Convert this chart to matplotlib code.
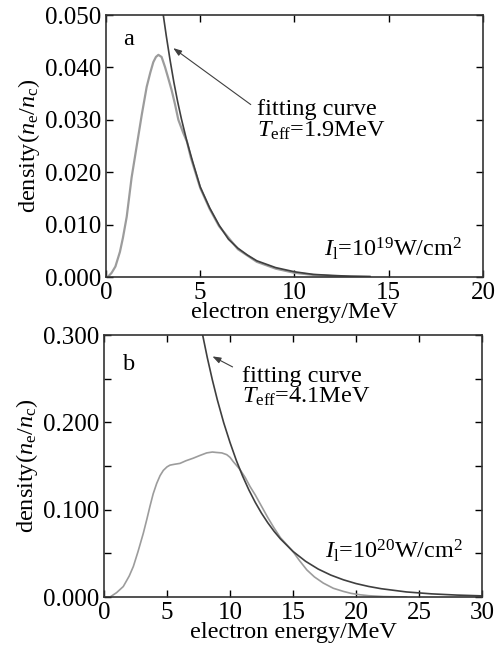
import matplotlib
matplotlib.use("Agg")
import matplotlib.pyplot as plt
from matplotlib.ticker import MultipleLocator

plt.rcParams['font.family'] = 'serif'
plt.rcParams['font.serif'] = ['Liberation Serif', 'DejaVu Serif']
plt.rcParams['mathtext.fontset'] = 'custom'
plt.rcParams['mathtext.rm'] = 'Liberation Serif'
plt.rcParams['mathtext.it'] = 'Liberation Serif:italic'

# --- panel a: I = 1e19 W/cm^2 ---
energy_a = [0, 0.12, 0.3, 0.5, 0.74, 0.9, 1.1, 1.36, 1.63, 1.9, 2.16, 2.35,
            2.51, 2.65, 2.78, 2.95, 3.13, 3.3, 3.48, 3.66, 3.84, 4.1, 4.3,
            4.5, 5, 5.5, 6, 7, 8, 9, 10, 11, 12, 13, 14]
density_a = [0, 0.0001, 0.0008, 0.002, 0.0048, 0.0075, 0.0115, 0.019, 0.025,
             0.031, 0.0363, 0.039, 0.041, 0.042, 0.0424, 0.042, 0.0401, 0.038,
             0.0357, 0.033, 0.030, 0.0275, 0.0258, 0.0228, 0.017, 0.013,
             0.0097, 0.0053, 0.0029, 0.0016, 0.0008, 0.0004, 0.0002, 0.0001, 0.0]

fit_energy_a = [3.04, 3.2, 3.4, 3.6, 3.8, 4.0, 4.3, 4.6, 5.0, 5.5, 6.0, 6.5,
                7.0, 7.5, 8.0, 9.0, 10, 11, 12, 13, 14]
fit_density_a = [0.050, 0.046, 0.0414, 0.0372, 0.0335, 0.0302, 0.0258, 0.022,
                 0.0172, 0.0132, 0.0099, 0.0072, 0.0055, 0.0042, 0.0031,
                 0.0018, 0.001, 0.0005, 0.0003, 0.00015, 0.0001]

# --- panel b: I = 1e20 W/cm^2 ---
energy_b = [0, 0.48, 1, 1.53, 2, 2.33, 2.7, 3.12, 3.4, 3.65, 3.9, 4.18, 4.45,
            4.71, 5.0, 5.24, 5.6, 6.03, 6.5, 7.09, 7.6, 8.15, 8.6, 8.94, 9.35,
            9.74, 10.0, 10.26, 10.5, 10.79, 11.2, 11.59, 12, 12.5, 13, 13.5,
            14, 14.5, 15, 15.5, 16.1, 16.7, 17.4, 18.2, 19, 19.6, 20.3, 21,
            22.2, 24]
density_b = [0, 0, 0.005, 0.012, 0.024, 0.035, 0.052, 0.073, 0.089, 0.104,
             0.118, 0.130, 0.139, 0.145, 0.149, 0.151, 0.152, 0.153, 0.156,
             0.159, 0.162, 0.165, 0.166, 0.1655, 0.165, 0.163, 0.160, 0.155,
             0.151, 0.146, 0.137, 0.1265, 0.117, 0.104, 0.091, 0.079, 0.068,
             0.060, 0.052, 0.042, 0.031, 0.023, 0.016, 0.010, 0.0064, 0.0042,
             0.0026, 0.0015, 0.0005, 0.0]

fit_energy_b = [7.83, 8.2, 8.6, 9, 9.5, 10, 10.5, 11, 11.5, 12, 12.5, 13,
                13.5, 14, 15, 16, 17, 18, 19, 20, 21, 22, 24, 26, 28, 30]
fit_density_b = [0.300, 0.274, 0.2486, 0.2255, 0.1996, 0.177, 0.1565, 0.1385,
                 0.1226, 0.1085, 0.096, 0.085, 0.0752, 0.0666, 0.0522, 0.0409,
                 0.032, 0.0251, 0.0197, 0.0154, 0.0121, 0.0095, 0.0058,
                 0.0036, 0.0022, 0.0013]

MEAS_COLOR = '#9c9c9c'
FIT_COLOR = '#3f3f3f'
FS = 17.5
TICK_FS = 18


def style_axes(ax, xmax, xstep, ymax, ystep, yminor=None):
    ax.set_xlim(0, xmax)
    ax.set_ylim(0, ymax)
    ax.xaxis.set_major_locator(MultipleLocator(xstep))
    ax.yaxis.set_major_locator(MultipleLocator(ystep))
    if yminor:
        ax.yaxis.set_minor_locator(MultipleLocator(yminor))
    ax.tick_params(which='both', direction='in', top=True, right=True,
                   length=5, width=1.0, labelsize=TICK_FS, pad=3.5)
    ax.yaxis.set_major_formatter(plt.FuncFormatter(lambda v, p: f'{v:.3f}'))
    for s in ax.spines.values():
        s.set_linewidth(1.2)
        s.set_color('#333333')
    ax.set_xlabel('electron energy/MeV', fontsize=FS, labelpad=-1)
    ax.set_ylabel(r'density($n_{\rm e}$/$n_{\rm c}$)', fontsize=FS, labelpad=2)


fig = plt.figure(figsize=(4.95, 6.48), dpi=100)

ax1 = fig.add_axes([0.2141, 0.5725, 0.7616, 0.4043])
ax1.plot(energy_a, density_a, color=MEAS_COLOR, lw=1.6)
ax1.plot(fit_energy_a, fit_density_a, color=FIT_COLOR, lw=1.2)
style_axes(ax1, 20, 5, 0.05, 0.01)
ax1.text(0.92, 0.0443, 'a', fontsize=FS)
ax1.annotate('', xy=(3.45, 0.044), xytext=(7.8, 0.0326),
             arrowprops=dict(arrowstyle='-|>,head_length=0.5,head_width=0.18',
                             color=FIT_COLOR, lw=0.8))
ax1.text(8.0, 0.0268, 'fitting curve\n' + r'$T_{\rm eff}$=1.9MeV',
         fontsize=FS, linespacing=0.95)
ax1.text(18.9, 0.0039, r'$I_{\rm l}$=10$^{19}$W/cm$^2$', fontsize=FS, ha='right')

ax2 = fig.add_axes([0.2101, 0.0787, 0.7636, 0.4043])
ax2.plot(energy_b, density_b, color=MEAS_COLOR, lw=1.2)
ax2.plot(fit_energy_b, fit_density_b, color=FIT_COLOR, lw=1.2)
style_axes(ax2, 30, 5, 0.3, 0.1, yminor=0.05)
ax2.text(1.53, 0.260, 'b', fontsize=FS)
ax2.annotate('', xy=(8.41, 0.277), xytext=(10.4, 0.262),
             arrowprops=dict(arrowstyle='-|>,head_length=0.5,head_width=0.18',
                             color=FIT_COLOR, lw=0.8))
ax2.text(10.95, 0.222, 'fitting curve\n' + r'$T_{\rm eff}$=4.1MeV',
         fontsize=FS, linespacing=0.95)
ax2.text(28.5, 0.044, r'$I_{\rm l}$=10$^{20}$W/cm$^2$', fontsize=FS, ha='right')

fig.savefig('out.png', dpi=100)
